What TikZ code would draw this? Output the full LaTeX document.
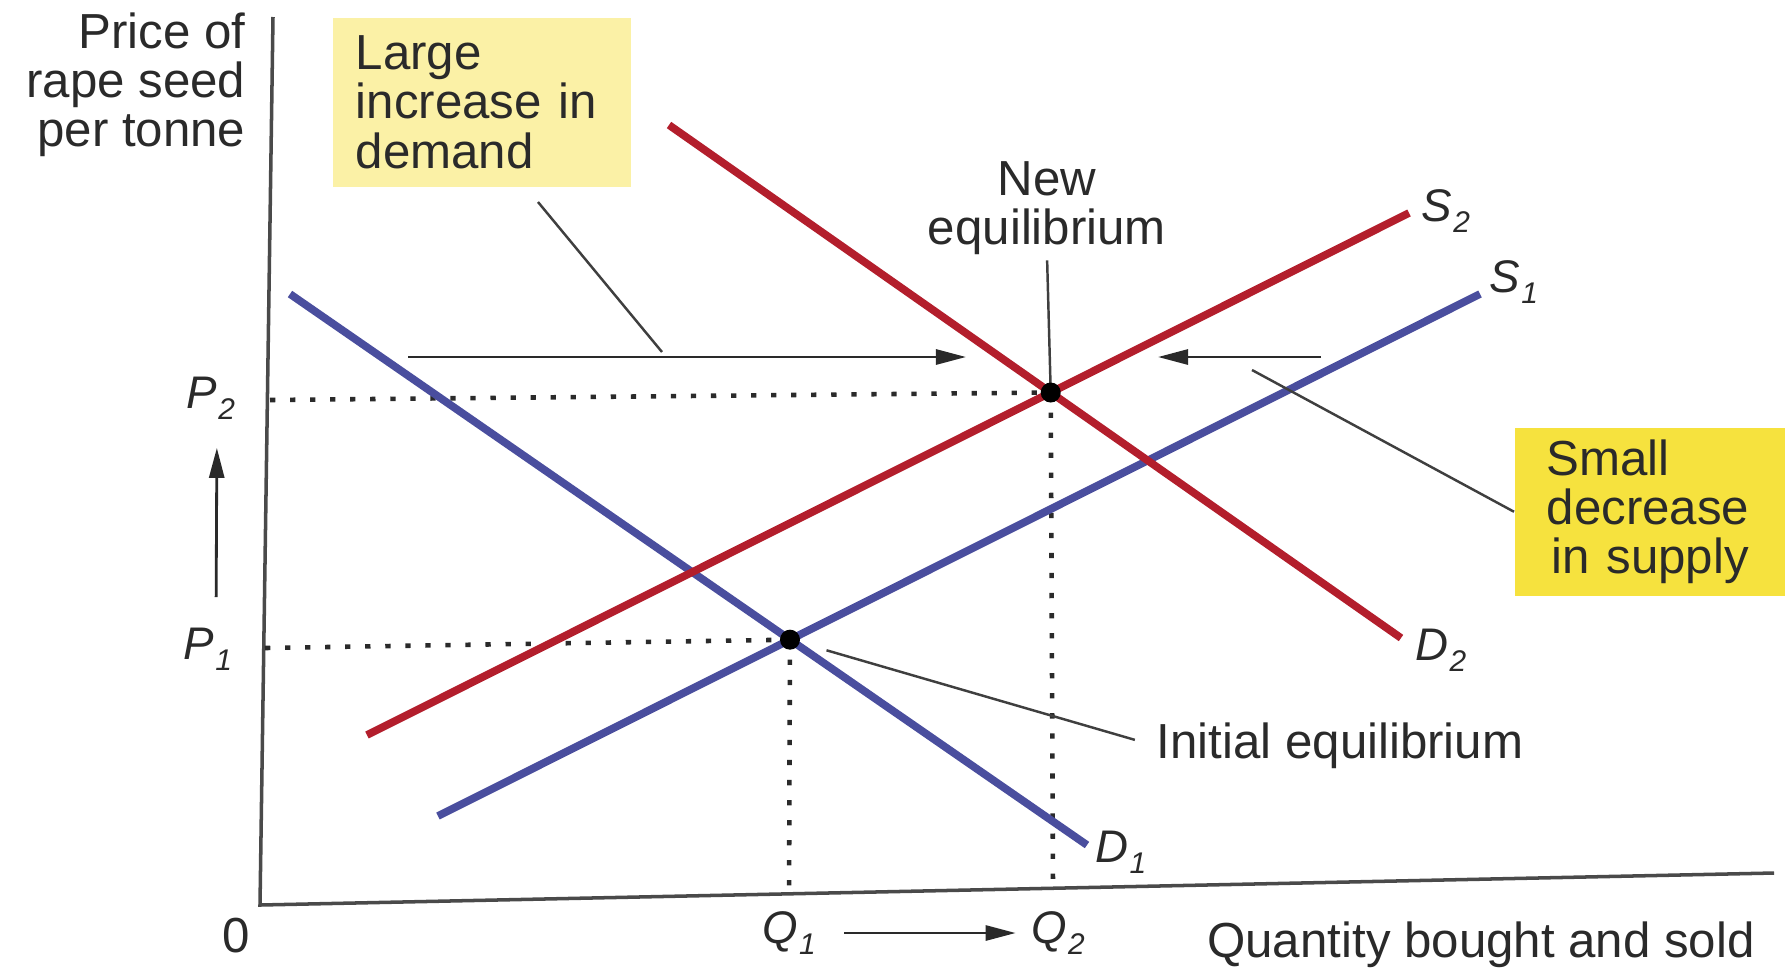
\documentclass[tikz,border=0pt]{standalone}
\usepackage{fontspec}
\setmainfont{Liberation Sans}
\usetikzlibrary{calc,arrows.meta}
\definecolor{redline}{HTML}{B31E2C}
\definecolor{blueline}{HTML}{4A4E9E}
\definecolor{paleyellow}{HTML}{FBF1A6}
\definecolor{brightyellow}{HTML}{F6E23E}
\definecolor{ink}{HTML}{2A2A2A}
\newcommand\lab[2]{#1\kern0.3pt\raisebox{-0.45ex}{\fontsize{8.5}{8.5}\selectfont #2}}
\begin{document}
\begin{tikzpicture}[x=0.01cm,y=-0.01cm,
  txt/.style={text=ink,font=\fontsize{14}{14}\selectfont,inner sep=0pt},
  lbl/.style={text=ink,font=\fontsize{13}{13}\selectfont\itshape,inner sep=0pt},
  curve/.style={line width=2.2pt},
  axis/.style={draw=ink!85,line width=1pt},
  guide/.style={draw=ink,line width=1.3pt,dash pattern=on 1.5pt off 4.2pt},
  lead/.style={draw=ink!90,line width=0.7pt},
  arr/.style={draw=ink,line width=0.8pt,-{Triangle[length=0.3cm,width=0.15cm]}},
  ybox/.style={text=ink,font=\fontsize{14}{14}\selectfont,align=left,anchor=north west,inner ysep=0pt}
]
\useasboundingbox (0,0) rectangle (1785,975);

% yellow boxes
\node[ybox,fill=paleyellow,minimum width=2.98cm,minimum height=1.69cm,text width=2.52cm,inner xsep=0.23cm] (box1) at (332,17) {Large\\increase in\\demand};
\node[ybox,fill=brightyellow,minimum width=2.74cm,minimum height=1.68cm,text width=2.1cm,inner xsep=0.32cm] (box2) at (1514,427) {Small\\decrease\\\hspace*{0.05cm}in supply};

% axes
\coordinate (ytop) at (273,17);
\coordinate (origin) at (260,905);
\coordinate (xend) at (1774,873);
\draw[axis] (ytop) -- (origin) -- (xend);

% curve end points
\coordinate (D1a) at (290,294); \coordinate (D1b) at (1087,845);
\coordinate (S1a) at (438,816); \coordinate (S1b) at (1480,294);
\coordinate (S2a) at (367,735); \coordinate (S2b) at (1409,213);
\coordinate (D2a) at (669,125); \coordinate (D2b) at (1401,638);
\coordinate (E1) at (intersection of D1a--D1b and S1a--S1b);
\coordinate (E2) at (intersection of D2a--D2b and S2a--S2b);

% guide points on the axes
\coordinate (p1ax) at (265,648);
\coordinate (p2ax) at (270,400);
\coordinate (q1ax) at (789,897);
\coordinate (q2ax) at (1053,888);
\draw[guide] (p1ax) -- (E1);
\draw[guide] (p2ax) -- (E2);
\draw[guide] (E1) -- (q1ax);
\draw[guide] (E2) -- (q2ax);

% curves
\draw[curve,blueline] (D1a) -- (D1b);
\draw[curve,blueline] (S1a) -- (S1b);
\draw[curve,redline] (S2a) -- (S2b);
\draw[curve,redline] (D2a) -- (D2b);

% texts
\node[txt,align=right,anchor=east] (ylab) at (246,85) {Price of\\rape seed\\per tonne};
\node[txt] (zero) at (236,936) {0};
\node[txt] (xlab) at (1481,945) {Quantity bought and sold};
\node[txt,align=center] (neweq) at (1047,208) {New\\equilibrium};
\node[txt,anchor=west] (ieq) at (1156,746) {Initial equilibrium};

% curve labels
\node[lbl] (S2l) at (1446,211) {\lab{S}{2}};
\node[lbl] (S1l) at (1514,282) {\lab{S}{1}};
\node[lbl] (D2l) at (1441,650) {\lab{D}{2}};
\node[lbl] (D1l) at (1121,852) {\lab{D}{1}};

% axis value labels
\node[lbl] (P1) at (208,649) {\lab{P}{1}};
\node[lbl] (P2) at (211,398) {\lab{P}{2}};
\node[lbl] (Q1) at (789,933) {\lab{Q}{1}};
\node[lbl] (Q2) at (1058,933) {\lab{Q}{2}};

\draw[arr,shorten <=0.3cm,shorten >=0.28cm] ([xshift=0.08cm]P1.north) -- ([xshift=0.06cm]P2.south);
\draw[arr,shorten <=0.28cm,shorten >=0.15cm] (Q1.east) -- (Q2.west);

% shift arrows
\coordinate (A1s) at (408,357); \coordinate (A1e) at (966,357);
\coordinate (A2s) at (1321,357); \coordinate (A2e) at (1158,357);
\draw[arr] (A1s) -- (A1e);
\draw[arr] (A2s) -- (A2e);

% leaders
\coordinate (b1) at (538,202); \coordinate (k1) at (662,352);
\draw[lead] (b1) -- (k1);
\coordinate (k2) at (1252,370);
\draw[lead] (box2.west) -- (k2);
\draw[lead,shorten <=0.05cm] (neweq.south) -- (E2);
\draw[lead,shorten <=0.38cm,shorten >=0.22cm] (E1) -- (ieq.west);

% equilibrium dots
\fill[black] (E1) circle[radius=0.1cm];
\fill[black] (E2) circle[radius=0.1cm];
\end{tikzpicture}
\end{document}
